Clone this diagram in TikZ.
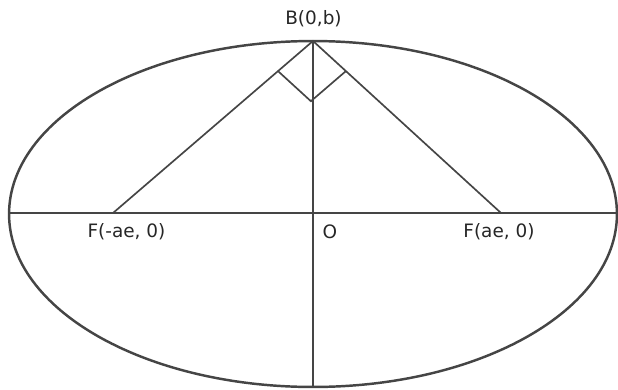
\documentclass[tikz,border=0pt]{standalone}
\usepackage{fontspec}
\setmainfont{DejaVu Sans}
\usepackage{xcolor}
\usetikzlibrary{calc}
\definecolor{inkgray}{HTML}{454545}

\begin{document}
\begin{tikzpicture}[
  x=0.02cm, y=-0.02cm,
  font=\fontsize{10.5}{12}\selectfont,
  curve/.style={draw=inkgray, line width=1.4pt},
  axis/.style={draw=inkgray, line width=0.95pt},
  lab/.style={inner sep=0pt, text=black!85},
]
\useasboundingbox (0, 0) rectangle (618, 389);
% points of the figure
\coordinate (O) at (313, 213);
\coordinate (B) at (313, 41);
\coordinate (Bot) at (313, 387);
\coordinate (L) at (8, 213);
\coordinate (R) at (616, 213);
\coordinate (F1) at (113, 213);
\coordinate (F2) at (501, 213);
\draw[curve] (313, 214) ellipse [x radius=6.08cm, y radius=3.46cm];
\draw[axis] (L) -- (R);
\draw[axis] (B) -- (Bot);
\draw[axis] (F1) -- (B) -- (F2);
% right angle at B
\coordinate (m1) at ($(B)!0.175!(F1)$);
\coordinate (m2) at ($(B)!0.175!(F2)$);
\draw[axis] (m1) -- ($(m1)+(m2)-(B)$) -- (m2);
% labels
\node[lab] (lB) at (313.5, 19) {B(0,b)};
\node[lab] (lF1) at (126.5, 232) {F(-ae, 0)};
\node[lab] (lO) at (330, 231.5) {O};
\node[lab] (lF2) at (499, 232) {F(ae, 0)};
\end{tikzpicture}
\end{document}
